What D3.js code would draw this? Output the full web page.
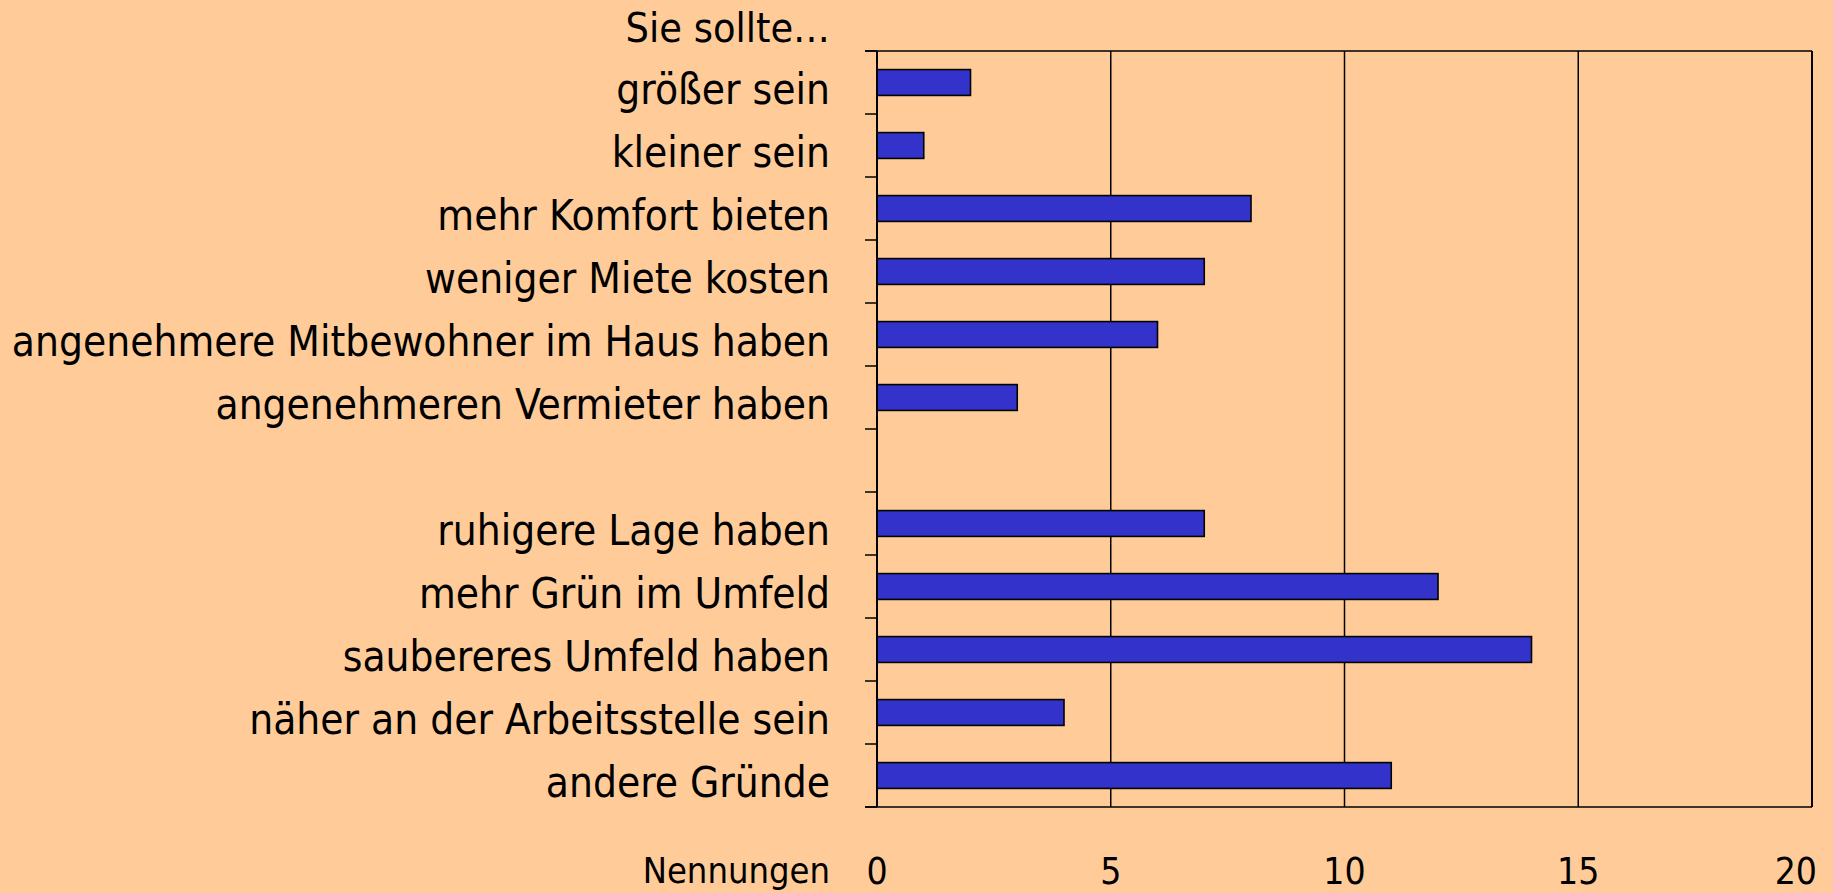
<!DOCTYPE html>
<html>
<head>
<meta charset="utf-8">
<script src="https://cdn.jsdelivr.net/npm/d3@7"></script>
<style>
  html, body { margin: 0; padding: 0; background: #FFCC99; }
  svg { display: block; }
</style>
</head>
<body>
<script>
// Survey: what the apartment should offer (number of mentions)
const categories = [
  "größer sein",
  "kleiner sein",
  "mehr Komfort bieten",
  "weniger Miete kosten",
  "angenehmere Mitbewohner im Haus haben",
  "angenehmeren Vermieter haben",
  "",
  "ruhigere Lage haben",
  "mehr Grün im Umfeld",
  "saubereres Umfeld haben",
  "näher an der Arbeitsstelle sein",
  "andere Gründe"
];
const values = [2, 1, 8, 7, 6, 3, null, 7, 12, 14, 4, 11];
const xTicks = [0, 5, 10, 15, 20];
const headerText = "Sie sollte…";
const axisTitle = "Nennungen";

const W = 1833, H = 893;
const margin = { top: 51, right: 21, bottom: 86, left: 877 };
const plotW = W - margin.left - margin.right;
const plotH = H - margin.top - margin.bottom;

const svg = d3.select("body").append("svg")
  .attr("width", W).attr("height", H);

svg.append("rect").attr("width", W).attr("height", H).attr("fill", "#FFCC99");

const g = svg.append("g").attr("transform", `translate(${margin.left},${margin.top})`);

const x = d3.scaleLinear().domain([0, 20]).range([0, plotW]);
const y = d3.scaleBand()
  .domain(d3.range(categories.length))
  .range([0, plotH])
  .paddingInner(0.59)
  .paddingOuter(0.295);

const labelFont = "'DejaVu Sans Condensed', 'DejaVu Sans', sans-serif";
const numFont = "'Liberation Sans Narrow', 'DejaVu Sans Condensed', sans-serif";

// vertical gridlines
g.selectAll("line.grid")
  .data(xTicks.filter(t => t > 0))
  .join("line")
  .attr("class", "grid")
  .attr("x1", d => x(d)).attr("x2", d => x(d))
  .attr("y1", 0).attr("y2", plotH)
  .attr("stroke", "#000").attr("stroke-width", 1.5);

// top and bottom frame lines (extend over the tick length on the left)
[0, plotH].forEach(yy => {
  g.append("line")
    .attr("x1", -12).attr("x2", plotW)
    .attr("y1", yy).attr("y2", yy)
    .attr("stroke", "#000").attr("stroke-width", 1.5);
});

// bars
g.selectAll("rect.bar")
  .data(values.map((v, i) => ({ v, i })).filter(d => d.v != null))
  .join("rect")
  .attr("class", "bar")
  .attr("x", x(0))
  .attr("y", d => y(d.i))
  .attr("width", d => x(d.v) - x(0))
  .attr("height", y.bandwidth())
  .attr("fill", "#3333CC")
  .attr("stroke", "#000")
  .attr("stroke-width", 1.6);

// category axis: ticks at band boundaries
const step = y.step();
g.selectAll("line.ytick")
  .data(d3.range(categories.length + 1))
  .join("line")
  .attr("class", "ytick")
  .attr("x1", -12).attr("x2", 0)
  .attr("y1", d => d * step).attr("y2", d => d * step)
  .attr("stroke", "#000").attr("stroke-width", 1.5);

g.append("line")
  .attr("x1", 0).attr("x2", 0).attr("y1", 0).attr("y2", plotH)
  .attr("stroke", "#000").attr("stroke-width", 2);

// right frame line
g.append("line")
  .attr("x1", plotW).attr("x2", plotW).attr("y1", 0).attr("y2", plotH)
  .attr("stroke", "#000").attr("stroke-width", 2);

// category labels
g.selectAll("text.cat")
  .data(categories.map((c, i) => ({ c, i })).filter(d => d.c))
  .join("text")
  .attr("class", "cat")
  .attr("x", -47)
  .attr("y", d => y(d.i) + y.bandwidth() / 2 + 21)
  .attr("text-anchor", "end")
  .attr("font-family", labelFont)
  .attr("font-size", 42)
  .attr("fill", "#000")
  .text(d => d.c);

// header above the categories
g.append("text")
  .attr("x", -47).attr("y", -9)
  .attr("text-anchor", "end")
  .attr("font-family", labelFont)
  .attr("font-size", 41)
  .attr("fill", "#000")
  .text(headerText);

// value axis labels
const tickTexts = g.selectAll("text.xtick")
  .data(xTicks)
  .join("text")
  .attr("class", "xtick")
  .attr("x", d => x(d))
  .attr("y", plotH + 77)
  .attr("text-anchor", "middle")
  .attr("font-family", numFont)
  .attr("font-size", 37)
  .attr("fill", "#000")
  .text(d => d);

// keep the last label inside the page
tickTexts.each(function () {
  const bb = this.getBBox();
  const rightLimit = W - 16 - margin.left;
  if (bb.x + bb.width > rightLimit) {
    d3.select(this).attr("x", +d3.select(this).attr("x") - (bb.x + bb.width - rightLimit));
  }
});

g.append("text")
  .attr("x", -47).attr("y", plotH + 76)
  .attr("text-anchor", "end")
  .attr("font-family", labelFont)
  .attr("font-size", 36)
  .attr("fill", "#000")
  .text(axisTitle);
</script>
</body>
</html>
